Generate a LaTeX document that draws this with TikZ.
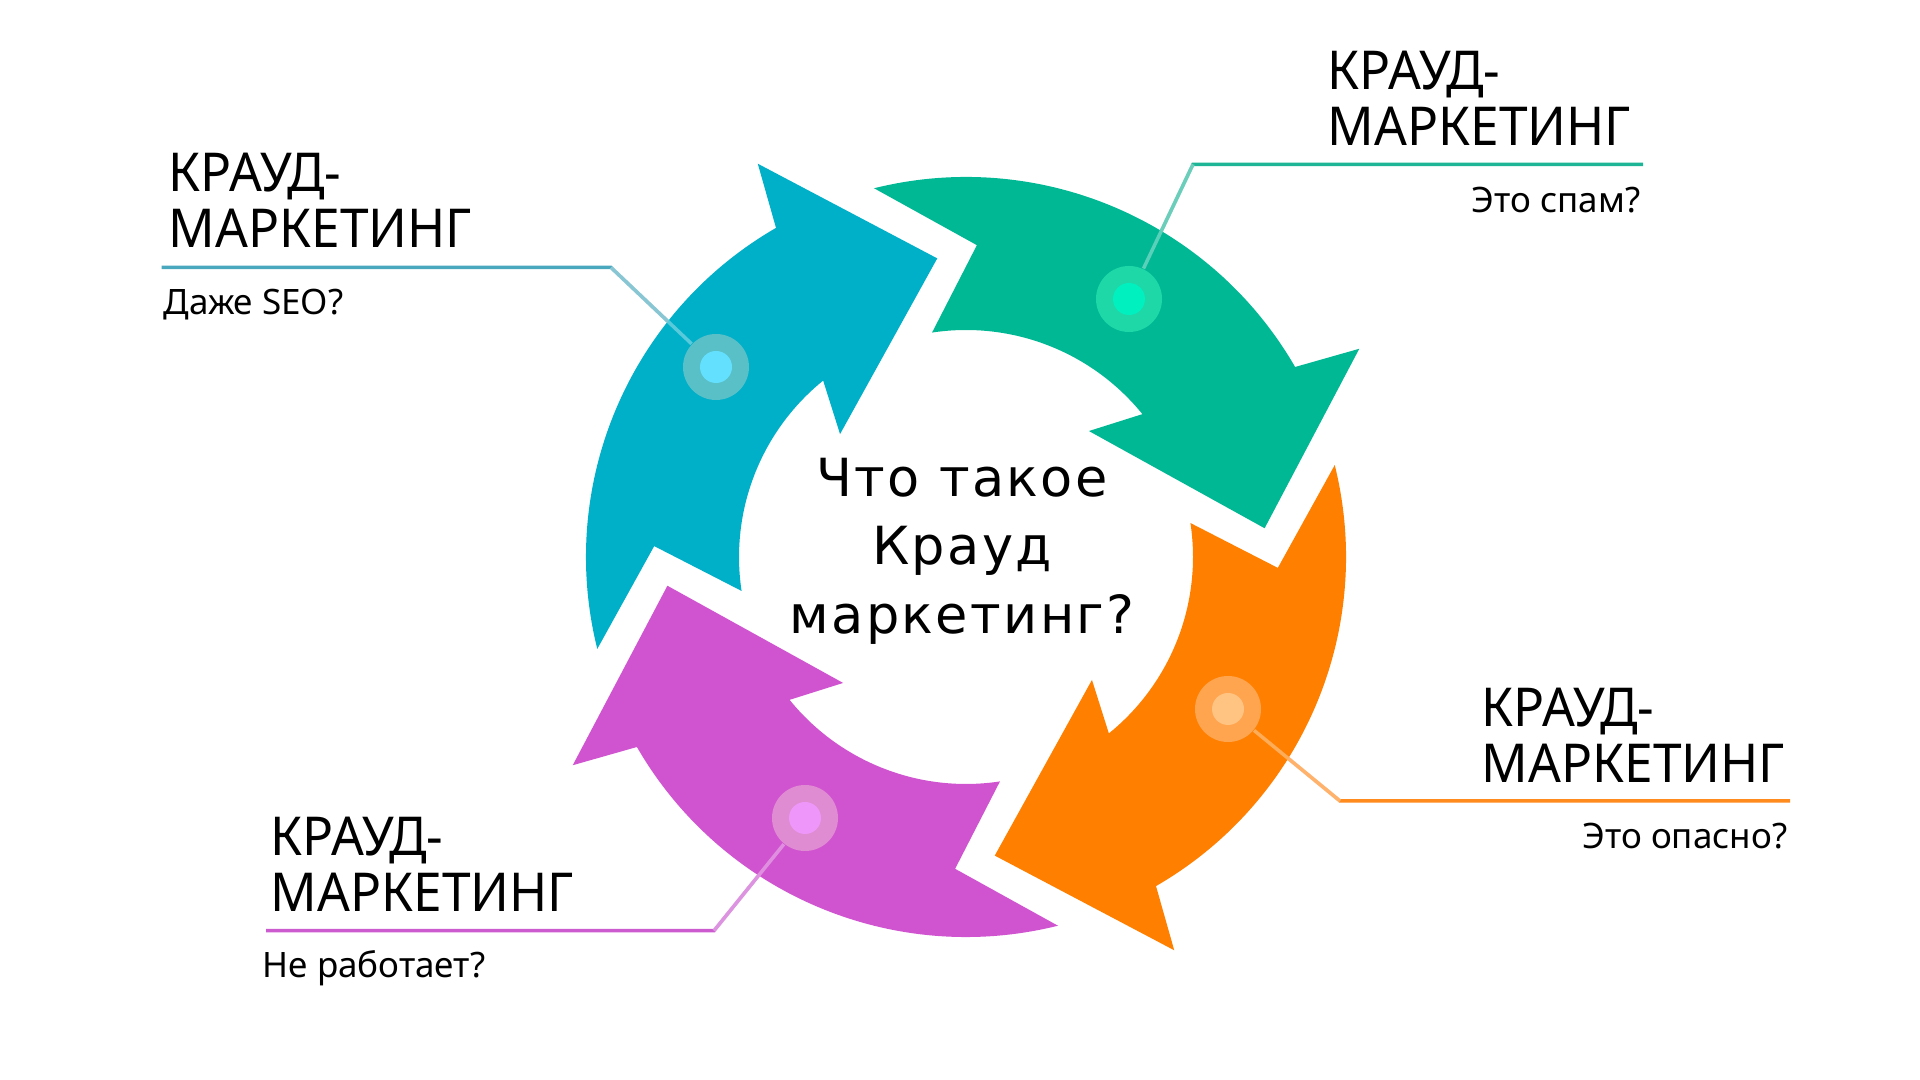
\documentclass[tikz,border=0pt]{standalone}
\usepackage{fontspec}
\setmainfont{Noto Sans}
\newfontfamily\capsfont[FakeStretch=0.96]{Noto Sans}
\newfontfamily\roundfont[LetterSpace=4.5]{DejaVu Sans}
\usepackage{tikz}
\usetikzlibrary{backgrounds}

\definecolor{cblue}{HTML}{00AFC8}
\definecolor{cbring}{HTML}{5AC0C8}
\definecolor{cbcore}{HTML}{64E0FF}
\definecolor{cbline}{HTML}{4AA8BE}
\definecolor{cgreen}{HTML}{00B894}
\definecolor{cgring}{HTML}{1ED8A8}
\definecolor{cgcore}{HTML}{00F0C0}
\definecolor{cgline}{HTML}{1DB596}
\definecolor{corange}{HTML}{FF8000}
\definecolor{coring}{HTML}{FFA550}
\definecolor{cocore}{HTML}{FFC382}
\definecolor{coline}{HTML}{FF8A1E}
\definecolor{cpurple}{HTML}{D054D0}
\definecolor{cpring}{HTML}{E08CD2}
\definecolor{cpcore}{HTML}{EE96FA}
\definecolor{cpline}{HTML}{CC5BD0}

\begin{document}
\begin{tikzpicture}
	[x=1cm,y=1cm,
	title/.style={anchor=south west,inner sep=0pt,align=left,font=\capsfont\fontsize{15.25}{15.94}\selectfont},
	question/.style={inner sep=0pt,font=\fontsize{9.96}{12}\selectfont},
	ring/.style={circle,minimum size=0.66cm,inner sep=0pt},
	lead/.style={line width=0.35mm}]
	\useasboundingbox (0,0) rectangle (19.2,10.8);
	
	\coordinate (c) at (9.66,5.23);
	
	% four arrows of the cycle
	\foreach \col/\rot in {cblue/0,cgreen/-90,corange/-180,cpurple/-270}{
		\begin{scope}[shift={(c)},rotate=\rot]
			\fill[\col] (194:3.80) arc[start angle=194,end angle=120,radius=3.80]
			-- (117.9:4.45) -- (95.5:3.00) -- (135.7:1.76) -- (129:2.27)
			arc[start angle=129,end angle=188.6,radius=2.27] -- (178:3.12) -- cycle;
		\end{scope}
	}
	
	% dots
	\node[ring,fill=cbring] (db) at (7.16,7.13) {};
	\node[ring,fill=cgring] (dg) at (11.29,7.81) {};
	\node[ring,fill=coring] (do) at (12.28,3.71) {};
	\node[ring,fill=cpring] (dp) at (8.05,2.62) {};
	\fill[cbcore] (db.center) circle (0.16);
	\fill[cgcore] (dg.center) circle (0.16);
	\fill[cocore] (do.center) circle (0.16);
	\fill[cpcore] (dp.center) circle (0.16);
	
	\coordinate (bk) at (6.11,8.125);  \coordinate (be) at (1.615,8.125);
	\coordinate (gk) at (11.93,9.157); \coordinate (ge) at (16.43,9.157);
	\coordinate (ok) at (13.40,2.79);  \coordinate (oe) at (17.90,2.79);
	\coordinate (pk) at (7.14,1.493);  \coordinate (pe) at (2.66,1.493);
	
	\begin{pgfonlayer}{background}
		\fill[white] (0,0) rectangle (19.2,10.8);
		\draw[lead,cbline] (db) -- (bk) -- (be);
		\draw[lead,cgline] (dg) -- (gk) -- (ge);
		\draw[lead,coline] (do) -- (ok) -- (oe);
		\draw[lead,cpline] (dp) -- (pk) -- (pe);
	\end{pgfonlayer}
	\draw[lead,white,opacity=0.35] (db) -- (bk);
	\draw[lead,white,opacity=0.35] (dg) -- (gk);
	\draw[lead,white,opacity=0.35] (do) -- (ok);
	\draw[lead,white,opacity=0.35] (dp) -- (pk);
	
	% labels
	\node[title] (tb) at (1.68,8.315) {КРАУД-\\МАРКЕТИНГ};
	\node[question,anchor=base west] (qb) at (1.63,7.655) {Даже SEO?};
	\node[title] (tg) at (13.27,9.337) {КРАУД-\\МАРКЕТИНГ};
	\node[question,anchor=base east] (qg) at (16.41,8.677) {Это спам?};
	\node[title] (to) at (14.81,2.97) {КРАУД-\\МАРКЕТИНГ};
	\node[question,anchor=base east] (qo) at (17.88,2.31) {Это опасно?};
	\node[title] (tp) at (2.70,1.673) {КРАУД-\\МАРКЕТИНГ};
	\node[question,anchor=base west] (qp) at (2.62,1.023) {Не работает?};
	
	\node[align=center,inner sep=0pt,font=\roundfont\fontsize{14.95}{19.5}\selectfont] (mid) at (9.62,5.29) {Что такое\\Крауд\\маркетинг?};
\end{tikzpicture}
\end{document}
